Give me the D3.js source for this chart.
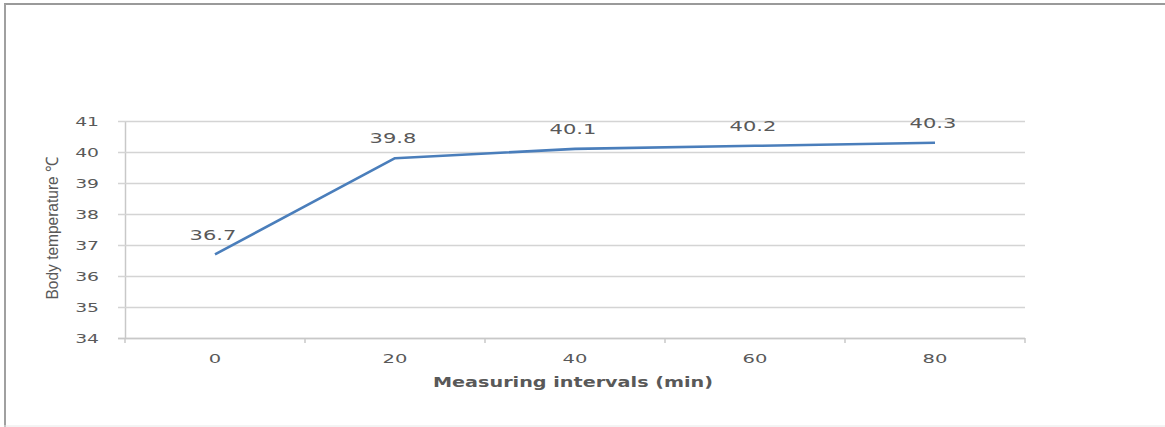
<!DOCTYPE html>
<html><head><meta charset="utf-8">
<script src="https://cdn.jsdelivr.net/npm/d3@7"></script>
<style>
html,body{margin:0;padding:0;background:#fff;}
svg{display:block;}
text{font-family:"DejaVu Sans",Verdana,sans-serif;fill:#595959;}
</style></head>
<body>
<svg id="chart" width="1165" height="427"></svg>
<script>
const categories = ["0", "20", "40", "60", "80"];
const temperatures = [36.7, 39.8, 40.1, 40.2, 40.3];
const yTicks = [34, 35, 36, 37, 38, 39, 40, 41];
const xTitle = "Measuring intervals (min)";
const yTitle = "Body temperature \u2103";

const svg = d3.select("#chart");
const W = 1165, H = 427;
const L = 125, R = 1025, T = 121, B = 338;

// outer frame
svg.append("line").attr("x1", 4).attr("x2", W).attr("y1", 4).attr("y2", 4)
  .attr("stroke", "#9a9a9a").attr("stroke-width", 2);
svg.append("line").attr("x1", 5).attr("x2", 5).attr("y1", 4).attr("y2", H)
  .attr("stroke", "#a0a0a0").attr("stroke-width", 2);
svg.append("line").attr("x1", 4).attr("x2", W).attr("y1", 426).attr("y2", 426)
  .attr("stroke", "#e8e8e8").attr("stroke-width", 1);

const x = d3.scaleBand().domain(categories).range([L, R]);
const y = d3.scaleLinear().domain([34, 41]).range([B, T]);

// gridlines + y axis
const yAxis = svg.append("g").attr("transform", `translate(${L},0)`)
  .call(d3.axisLeft(y).tickValues(yTicks).tickSize(-(R - L)).tickSizeOuter(0).tickPadding(0).tickFormat(d => ""));
yAxis.select(".domain").attr("stroke", "#c8c8c8").attr("stroke-width", 1.5);
yAxis.selectAll(".tick line").attr("stroke", "#d4d4d4").attr("stroke-width", 1.5)
  .attr("x1", -7);
yTicks.forEach(v => {
  svg.append("text")
    .attr("transform", `translate(99,${y(v)}) scale(1.5,1)`)
    .attr("text-anchor", "end").attr("dy", "0.36em")
    .attr("font-size", 12.5).text(v);
});

// x axis
const xAxis = svg.append("g").attr("transform", `translate(0,${B})`)
  .call(d3.axisBottom(x).tickSize(0).tickFormat(d => ""));
xAxis.select(".domain").attr("stroke", "#c8c8c8").attr("stroke-width", 1.5).attr("d", `M${L - 7},0.5H${R}`);
const bounds = categories.map(c => x(c)).concat([R]);
xAxis.selectAll(".bt").data(bounds).enter().append("line")
  .attr("x1", d => d).attr("x2", d => d).attr("y1", 0).attr("y2", 5)
  .attr("stroke", "#c8c8c8").attr("stroke-width", 1.5);
categories.forEach(c => {
  svg.append("text")
    .attr("transform", `translate(${x(c) + x.bandwidth() / 2},${B + 20}) scale(1.5,1)`)
    .attr("text-anchor", "middle").attr("dy", "0.36em")
    .attr("font-size", 13).text(c);
});

// line
const pts = categories.map((c, i) => [x(c) + x.bandwidth() / 2, y(temperatures[i])]);
svg.append("path").attr("d", d3.line()(pts))
  .attr("fill", "none").attr("stroke", "#4a7ebb").attr("stroke-width", 2.6)
  .attr("stroke-linejoin", "round");

// data labels
pts.forEach((p, i) => {
  svg.append("text")
    .attr("transform", `translate(${p[0] - 2},${p[1] - 20}) scale(1.45,1)`)
    .attr("text-anchor", "middle").attr("dy", "0.36em")
    .attr("font-size", 14.5).attr("fill", "#505050").text(temperatures[i]);
});

// titles
svg.append("text").attr("x", 573).attr("y", 382).attr("dy", "0.36em")
  .attr("text-anchor", "middle").attr("font-size", 14).attr("font-weight", "bold")
  .attr("fill", "#505050")
  .attr("textLength", 280).attr("lengthAdjust", "spacingAndGlyphs").text(xTitle);
svg.append("text")
  .attr("transform", `translate(52,228) rotate(-90)`)
  .attr("text-anchor", "middle").attr("dy", "0.36em")
  .attr("font-size", 17).attr("fill", "#333333")
  .style("font-family", "'Liberation Sans Narrow','Arial Narrow','Liberation Sans',sans-serif")
  .attr("textLength", 143).attr("lengthAdjust", "spacingAndGlyphs").text(yTitle);
</script>
</body></html>
